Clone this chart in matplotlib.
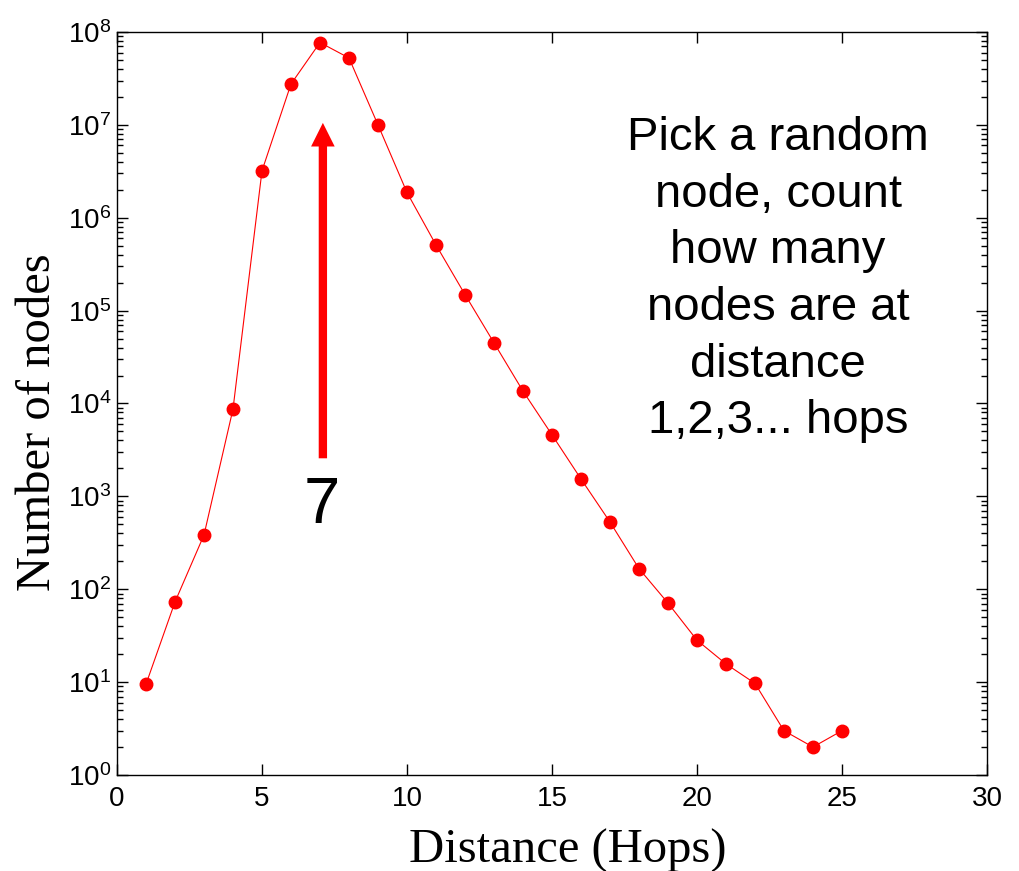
import numpy as np
import matplotlib
matplotlib.use("Agg")
import matplotlib.pyplot as plt
from matplotlib.ticker import FixedLocator, LogLocator, NullFormatter, FuncFormatter

# hop distance and number of nodes found at that distance
hops = [1, 2, 3, 4, 5, 6, 7, 8, 9, 10, 11, 12, 13,
        14, 15, 16, 17, 18, 19, 20, 21, 22, 23, 24, 25]
num_nodes = [9.5, 73, 384, 8700, 3.2e6, 2.75e7, 7.7e7, 5.25e7, 1.0e7,
             1.87e6, 5.1e5, 1.49e5, 4.5e4, 1.36e4, 4600, 1540, 530,
             167, 71, 28.3, 15.7, 9.7, 3, 2, 3]

x_ticks = [0, 5, 10, 15, 20, 25, 30]
y_ticks = [10.0 ** k for k in range(0, 9)]

note_text = "Pick a random\nnode, count\nhow many\nnodes are at\ndistance\n1,2,3... hops"
peak_label = "7"


def main() -> None:
    sans = "Liberation Sans"
    serif = "Liberation Serif"
    plt.rcParams["font.family"] = [sans, "DejaVu Sans"]
    plt.rcParams["mathtext.fontset"] = "custom"
    plt.rcParams["mathtext.rm"] = sans
    plt.rcParams["mathtext.it"] = sans
    plt.rcParams["xtick.labelsize"] = 20
    plt.rcParams["ytick.labelsize"] = 20

    fig = plt.figure(figsize=(10.2, 8.71), dpi=100)
    ax = fig.add_axes([0.1147, 0.1102, 0.8529, 0.8531])

    ax.plot(hops, num_nodes, color="red", lw=0.8, marker="o",
            markersize=9, markeredgecolor="red", markerfacecolor="red")

    ax.set_yscale("log")
    ax.set_xlim(0, 30)
    ax.set_ylim(1, 1e8)
    ax.xaxis.set_major_locator(FixedLocator(x_ticks))
    ax.yaxis.set_major_locator(FixedLocator(y_ticks))
    ax.yaxis.set_minor_locator(LogLocator(base=10, subs=np.arange(2, 10), numticks=20))
    ax.yaxis.set_minor_formatter(NullFormatter())
    ax.yaxis.set_major_formatter(FuncFormatter(
        lambda v, p: r"$\mathregular{10^{%d}}$" % int(round(np.log10(v)))))

    ax.tick_params(which="both", direction="in", top=True, right=True,
                   colors="black", width=1.0)
    ax.tick_params(which="major", length=7.7)
    ax.tick_params(which="minor", length=4.5)
    ax.tick_params(axis="y", which="major", pad=4)
    ax.tick_params(axis="x", which="major", pad=8)
    for sp in ax.spines.values():
        sp.set_linewidth(1.0)

    ax.set_xlabel("Distance (Hops)", fontsize=35, family=serif)
    ax.set_ylabel("Number of nodes", fontsize=35, family=serif)
    ax.xaxis.set_label_coords(0.518, -0.072, transform=ax.transAxes)
    ax.yaxis.set_label_coords(-0.066, 0.475, transform=ax.transAxes)
    ax.xaxis.label.set_va("top")

    # arrow pointing at the peak
    ax.annotate("", xy=(7.1, 1.05e7), xytext=(7.1, 2570),
                arrowprops=dict(arrowstyle="simple,head_width=17,head_length=17,tail_width=6",
                                mutation_scale=1, color="red", shrinkA=0, shrinkB=0, lw=0))
    ax.text(7.05, 515, peak_label, fontsize=47, family=sans,
            ha="center", va="baseline")

    ax.text(0.76, 0.8865, note_text, transform=ax.transAxes, fontsize=34,
            family=sans, ha="center", va="top", linespacing=1.37)

    fig.savefig("out.png", dpi=100, facecolor="white")


if __name__ == "__main__":
    main()
